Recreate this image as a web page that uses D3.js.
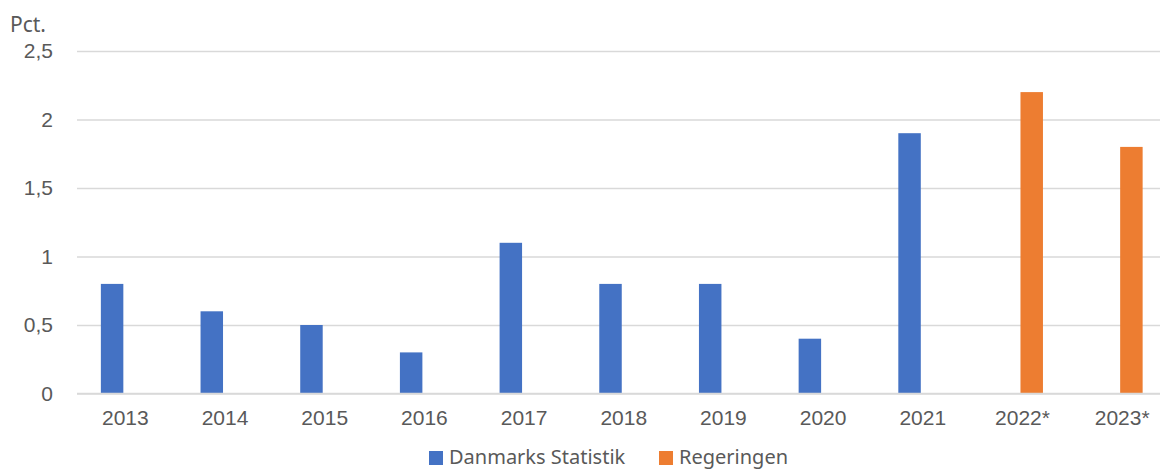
<!DOCTYPE html>
<html>
<head>
<meta charset="utf-8">
<script src="https://cdn.jsdelivr.net/npm/d3@7"></script>
<style>
  body { margin: 0; background: #fff; }
  svg { display: block; font-family: "Noto Sans", sans-serif; }
  .tick text { fill: #595959; font-size: 21px; }
  .legend text { fill: #595959; font-size: 20px; }
</style>
</head>
<body>
<svg id="chart" width="1160" height="470"></svg>
<script>
// chart data
const years = ['2013', '2014', '2015', '2016', '2017', '2018', '2019', '2020', '2021', '2022*', '2023*'];
const seriesNames = ['Danmarks Statistik', 'Regeringen'];
const danmarksStatistik = [0.8, 0.6, 0.5, 0.3, 1.1, 0.8, 0.8, 0.4, 1.9, null, null];
const regeringen = [null, null, null, null, null, null, null, null, null, 2.2, 1.8];
const yTicks = [0, 0.5, 1, 1.5, 2, 2.5];
const colors = ['#4472C4', '#ED7D31'];

const svg = d3.select('#chart');
const margin = {top: 51, left: 77};
const plotBottom = 393.5;

// categories run slightly past the right edge (cropped like the original)
const x0 = d3.scaleBand()
    .domain(years)
    .range([73.5, 1170])
    .paddingInner(0.549)
    .paddingOuter(0.2745);

const x1 = d3.scaleBand()
    .domain(seriesNames)
    .range([0, x0.bandwidth()]);

const y = d3.scaleLinear()
    .domain([0, 2.5])
    .range([plotBottom, margin.top]);

const fmt = d => d3.format('')(d).replace('.', ',');

// gridlines + y labels
const yAxis = d3.axisLeft(y)
    .tickValues(yTicks)
    .tickSize(-(1160 - margin.left))
    .tickPadding(24)
    .tickFormat(fmt);

svg.append('g')
    .attr('transform', `translate(${margin.left},0)`)
    .call(yAxis)
    .call(g => g.select('.domain').remove())
    .call(g => g.selectAll('.tick line').attr('stroke', '#D9D9D9').attr('stroke-width', 1.3))
    .call(g => g.selectAll('.tick text').attr('x', -24));

// axis title
svg.append('text')
    .attr('x', 10)
    .attr('y', 32)
    .attr('fill', '#595959')
    .style('font-size', '21px')
    .text('Pct.');

// bars
const rows = years.map((yr, i) => ({year: yr, values: [danmarksStatistik[i], regeringen[i]]}));

const groups = svg.append('g')
  .selectAll('g')
  .data(rows)
  .join('g')
    .attr('transform', d => `translate(${x0(d.year)},0)`);

groups.selectAll('rect')
  .data(d => d.values.map((v, j) => ({name: seriesNames[j], value: v, idx: j})).filter(e => e.value != null))
  .join('rect')
    .attr('x', d => x1(d.name))
    .attr('width', x1.bandwidth())
    .attr('y', d => y(d.value))
    .attr('height', d => y(0) - y(d.value))
    .attr('fill', d => colors[d.idx]);

// baseline redrawn on top
svg.append('line')
    .attr('x1', margin.left).attr('x2', 1160)
    .attr('y1', y(0)).attr('y2', y(0))
    .attr('stroke', '#D9D9D9').attr('stroke-width', 1.3);

// x labels
const xAxis = d3.axisBottom(x0).tickSize(0).tickPadding(17);
svg.append('g')
    .attr('transform', `translate(0,${plotBottom})`)
    .call(xAxis)
    .call(g => g.select('.domain').remove())
    .call(g => g.selectAll('.tick').attr('transform', d => `translate(${x0(d) + x0.bandwidth() / 2 + 2},0)`));

// legend
const legend = svg.append('g').attr('class', 'legend');
const legendX = [429, 659];
seriesNames.forEach((name, i) => {
  legend.append('rect')
      .attr('x', legendX[i]).attr('y', 451)
      .attr('width', 14).attr('height', 14)
      .attr('fill', colors[i]);
  legend.append('text')
      .attr('x', legendX[i] + 20)
      .attr('y', 464)
      .text(name);
});
</script>
</body>
</html>
